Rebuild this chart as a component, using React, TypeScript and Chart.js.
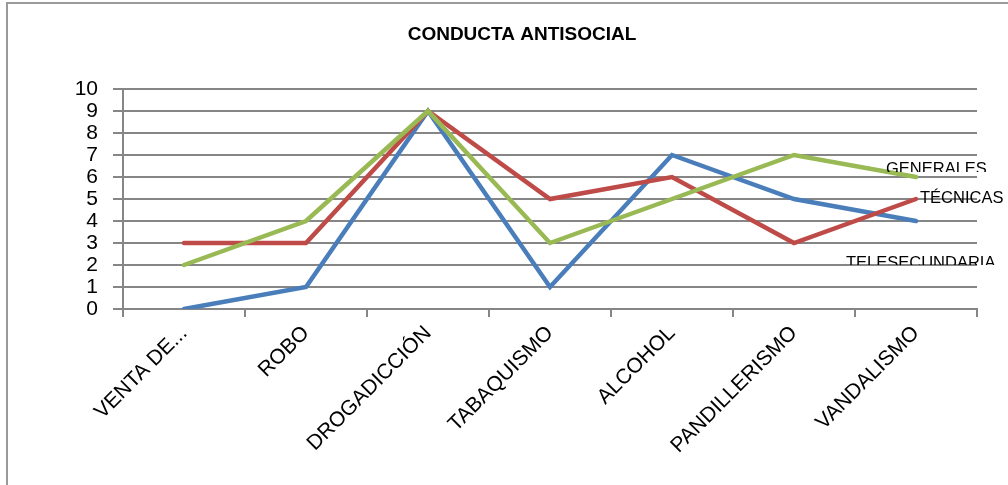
import React, { useEffect, useRef } from "react";
import { Chart, registerables } from "chart.js";

Chart.register(...registerables);

const categories = ["VENTA DE...", "ROBO", "DROGADICCIÓN", "TABAQUISMO", "ALCOHOL", "PANDILLERISMO", "VANDALISMO"];
const telesecundaria = [0, 1, 9, 1, 7, 5, 4];
const tecnicas = [3, 3, 9, 5, 6, 3, 5];
const generales = [2, 4, 9, 3, 5, 7, 6];
const seriesNames = ["TELESECUNDARIA", "TÉCNICAS", "GENERALES"];
const yTicks = [0, 1, 2, 3, 4, 5, 6, 7, 8, 9, 10];
const title = "CONDUCTA ANTISOCIAL";

const FONT = "'Liberation Sans', Arial, sans-serif";
const GRID = "#868686";

// label placement relative to the last point of each series: [dx, dy(baseline), clipDy|null]
const labelOffsets: Record<string, [number, number, number | null]> = {
  TELESECUNDARIA: [-70, 47, 44],
  "TÉCNICAS": [4, 4, null],
  GENERALES: [-30, -3, -5],
};

const decorPlugin = {
  id: "decor",
  beforeDraw(chart: any) {
    const ctx = chart.ctx;
    ctx.save();
    ctx.fillStyle = "#fff";
    ctx.fillRect(0, 0, chart.width, chart.height);
    ctx.strokeStyle = "#9a9a9a";
    ctx.lineWidth = 2;
    ctx.beginPath();
    ctx.moveTo(7, chart.height);
    ctx.lineTo(7, 3);
    ctx.lineTo(chart.width, 3);
    ctx.stroke();
    ctx.fillStyle = "#000";
    ctx.font = `bold 19px ${FONT}`;
    ctx.textAlign = "center";
    ctx.textBaseline = "alphabetic";
    ctx.fillText(title, 522, 40);
    ctx.restore();
  },
  afterDatasetsDraw(chart: any) {
    const ctx = chart.ctx;
    chart.data.datasets.forEach((ds: any, i: number) => {
      const meta = chart.getDatasetMeta(i);
      const last = meta.data[meta.data.length - 1];
      if (!last) return;
      const off = labelOffsets[ds.label];
      if (!off) return;
      ctx.save();
      if (off[2] !== null) {
        ctx.beginPath();
        ctx.rect(0, 0, chart.width, last.y + off[2]);
        ctx.clip();
      }
      ctx.fillStyle = "#000";
      ctx.font = `16.5px ${FONT}`;
      ctx.textAlign = "left";
      ctx.textBaseline = "alphabetic";
      ctx.fillText(ds.label, last.x + off[0], last.y + off[1]);
      ctx.restore();
    });
  },
};

export default function App() {
  const ref = useRef<HTMLCanvasElement | null>(null);
  useEffect(() => {
    if (!ref.current) return;
    const chart = new Chart(ref.current, {
      type: "line",
      data: {
        labels: categories,
        datasets: [
          { label: seriesNames[0], data: telesecundaria, borderColor: "#4A7EBB", order: 2 },
          { label: seriesNames[1], data: tecnicas, borderColor: "#BE4B48", order: 1 },
          { label: seriesNames[2], data: generales, borderColor: "#98B954", order: 0 },
        ].map((d) => ({
          ...d,
          borderWidth: 4.5,
          pointRadius: 0,
          pointHoverRadius: 0,
          tension: 0,
          fill: false,
          borderCapStyle: "round" as const,
          borderJoinStyle: "miter" as const,
        })),
      },
      options: {
        responsive: false,
        animation: false,
        layout: { padding: { top: 89, right: 31, left: 0, bottom: 0 } },
        plugins: {
          legend: { display: false },
          title: { display: false },
          tooltip: { enabled: false },
        },
        scales: {
          x: {
            type: "category",
            offset: true,
            grid: {
              display: true,
              drawOnChartArea: false,
              drawTicks: true,
              tickLength: 8,
              color: GRID,
              lineWidth: 2,
              offset: true,
            },
            border: { display: true, color: GRID, width: 2 },
            ticks: {
              autoSkip: false,
              minRotation: 45,
              maxRotation: 45,
              color: "#000",
              padding: 4,
              font: { family: FONT, size: 21 },
            },
            afterFit: (s: any) => {
              s.height = 176;
            },
          },
          y: {
            min: 0,
            max: 10,
            afterBuildTicks: (s: any) => {
              s.ticks = yTicks.map((v) => ({ value: v }));
            },
            grid: {
              color: GRID,
              lineWidth: 2,
              drawTicks: true,
              tickLength: 10,
            },
            border: { display: true, color: GRID, width: 2 },
            ticks: {
              autoSkip: false,
              color: "#000",
              padding: 15,
              font: { family: FONT, size: 21 },
            },
            afterFit: (s: any) => {
              s.width = 123;
            },
          },
        },
      },
      plugins: [decorPlugin],
    });
    return () => chart.destroy();
  }, []);
  return (
    <div style={{ position: "fixed", left: 0, top: 0, width: 1008, height: 485, background: "#fff" }}>
      <canvas ref={ref} width={1008} height={485} style={{ width: 1008, height: 485, display: "block" }} />
    </div>
  );
}
